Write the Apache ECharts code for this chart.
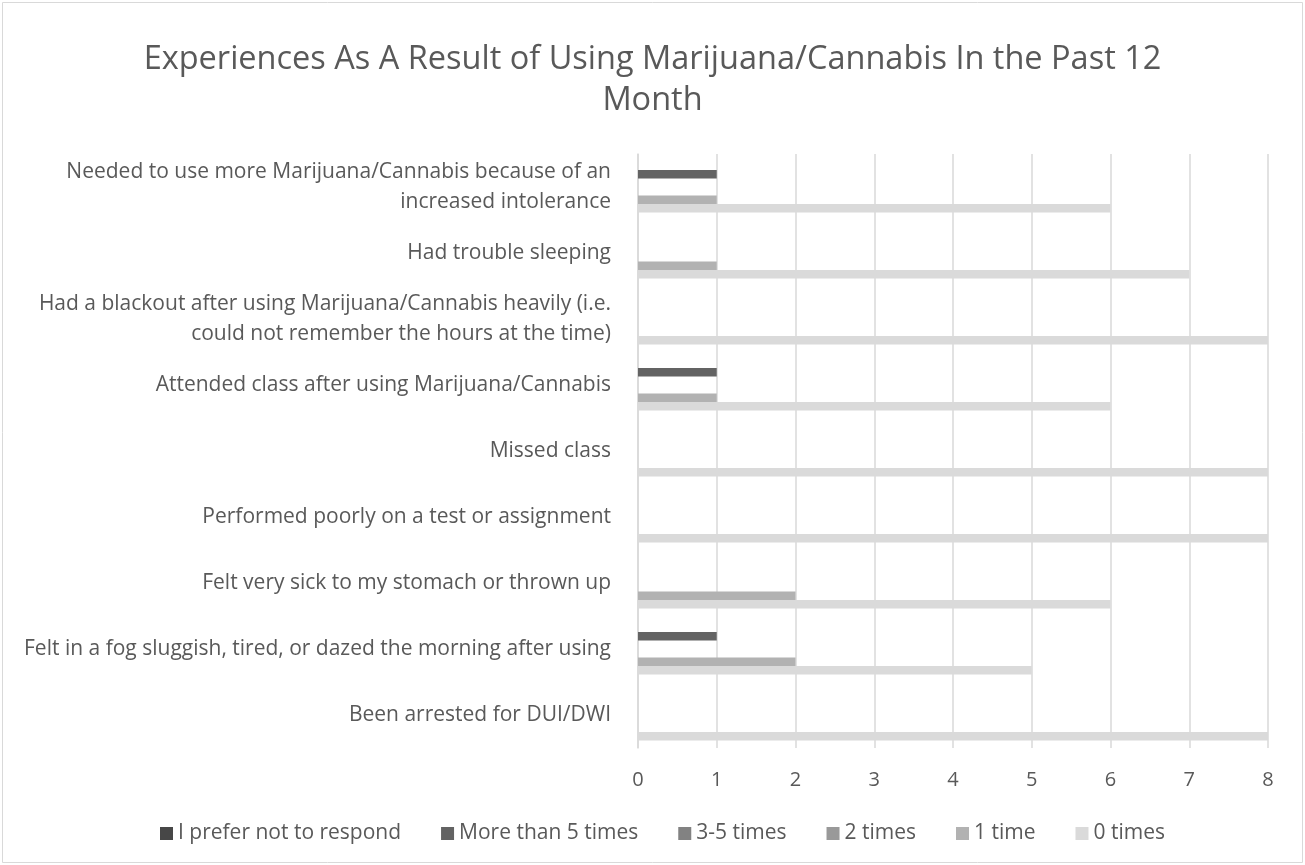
<!DOCTYPE html>
<html>
<head>
<meta charset="utf-8">
<script src="https://cdn.jsdelivr.net/npm/echarts@6/dist/echarts.min.js"></script>
<style>
html,body{margin:0;padding:0;background:#fff;}
#chart{width:1305px;height:865px;}
</style>
</head>
<body>
<div id="chart"></div>
<script>
const categories = [
  "Needed to use more Marijuana/Cannabis because of an\nincreased intolerance",
  "Had trouble sleeping",
  "Had a blackout after using Marijuana/Cannabis heavily (i.e.\ncould not remember the hours at the time)",
  "Attended class after using Marijuana/Cannabis",
  "Missed class",
  "Performed poorly on a test or assignment",
  "Felt very sick to my stomach or thrown up",
  "Felt in a fog sluggish, tired, or dazed the morning after using",
  "Been arrested for DUI/DWI"
];
const seriesNames = ["I prefer not to respond", "More than 5 times", "3-5 times", "2 times", "1 time", "0 times"];
const preferNot   = [0, 0, 0, 0, 0, 0, 0, 0, 0];
const moreThan5   = [1, 0, 0, 1, 0, 0, 0, 1, 0];
const times3to5   = [0, 0, 0, 0, 0, 0, 0, 0, 0];
const times2      = [0, 0, 0, 0, 0, 0, 0, 0, 0];
const times1      = [1, 1, 0, 1, 0, 0, 2, 2, 0];
const times0      = [6, 7, 8, 6, 8, 8, 6, 5, 8];
const xTicks = [0, 1, 2, 3, 4, 5, 6, 7, 8];

const colors = ['#474747', '#636363', '#828282', '#999999', '#b2b2b2', '#dadada'];
const values = [preferNot, moreThan5, times3to5, times2, times1, times0];
const FONT = 'Open Sans';

const chart = echarts.init(document.getElementById('chart'), null, {renderer: 'canvas'});
chart.setOption({
  animation: false,
  backgroundColor: '#ffffff',
  textStyle: {fontFamily: FONT},
  title: {
    text: 'Experiences As A Result of Using Marijuana/Cannabis In the Past 12\nMonth',
    left: 'center',
    top: 34,
    textStyle: {fontFamily: FONT, fontSize: 32.5, fontWeight: 'normal', color: '#595959', lineHeight: 41}
  },
  graphic: [{
    type: 'rect', shape: {x: 2.5, y: 2.5, width: 1300, height: 860},
    style: {fill: 'none', stroke: '#d9d9d9', lineWidth: 1}, silent: true
  }],
  legend: {
    data: seriesNames,
    top: 818,
    left: 155,
    itemWidth: 13,
    itemHeight: 13,
    itemGap: 40,
    icon: 'rect',
    textStyle: {fontFamily: FONT, fontSize: 21, color: '#595959', padding: [0, 0, 0, 0]}
  },
  grid: {left: 638, right: 37, top: 154, bottom: 117, containLabel: false},
  xAxis: {
    type: 'value', min: xTicks[0], max: xTicks[xTicks.length - 1], interval: 1,
    axisLine: {show: false}, axisTick: {show: false},
    splitLine: {show: true, lineStyle: {color: '#d9d9d9', width: 1.5}},
    axisLabel: {fontFamily: FONT, fontSize: 20, color: '#595959', margin: 22}
  },
  yAxis: {
    type: 'category', data: categories, inverse: true,
    axisLine: {show: true, lineStyle: {color: '#d9d9d9', width: 1.5}},
    axisTick: {show: false},
    axisLabel: {fontFamily: FONT, fontSize: 21, color: '#595959', margin: 27, align: 'right', lineHeight: 30}
  },
  series: seriesNames.map((n, i) => ({
    name: n, type: 'bar', data: values[i],
    barGap: '0%', barCategoryGap: '23%',
    itemStyle: {color: colors[i]}
  }))
});
</script>
</body>
</html>
